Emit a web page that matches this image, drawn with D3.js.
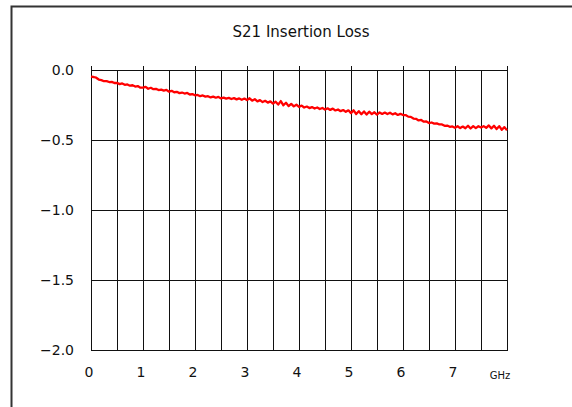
<html>
<head>
    <title>S21 Insertion Loss</title>
    <meta charset="utf-8" />
    <script src="https://d3js.org/d3.v7.min.js"></script>
</head>
<style>
    body { margin: 0; background: #fff; }
    svg { font-family: "DejaVu Sans", sans-serif; }
    .grid line { stroke: #111; stroke-width: 1px; shape-rendering: crispEdges; }
    .lbl { font-size: 14px; fill: #111; }
</style>
<body>
    <svg id="chart" width="572" height="407"></svg>

    <script>
        // frequency in GHz, loss in dB (every 0.05 GHz)
        var freqs = [
            0.00, 0.05, 0.10, 0.15, 0.20, 0.25, 0.30, 0.35, 0.40, 0.45,
            0.50, 0.55, 0.60, 0.65, 0.70, 0.75, 0.80, 0.85, 0.90, 0.95,
            1.00, 1.05, 1.10, 1.15, 1.20, 1.25, 1.30, 1.35, 1.40, 1.45,
            1.50, 1.55, 1.60, 1.65, 1.70, 1.75, 1.80, 1.85, 1.90, 1.95,
            2.00, 2.05, 2.10, 2.15, 2.20, 2.25, 2.30, 2.35, 2.40, 2.45,
            2.50, 2.55, 2.60, 2.65, 2.70, 2.75, 2.80, 2.85, 2.90, 2.95,
            3.00, 3.05, 3.10, 3.15, 3.20, 3.25, 3.30, 3.35, 3.40, 3.45,
            3.50, 3.55, 3.60, 3.65, 3.70, 3.75, 3.80, 3.85, 3.90, 3.95,
            4.00, 4.05, 4.10, 4.15, 4.20, 4.25, 4.30, 4.35, 4.40, 4.45,
            4.50, 4.55, 4.60, 4.65, 4.70, 4.75, 4.80, 4.85, 4.90, 4.95,
            5.00, 5.05, 5.10, 5.15, 5.20, 5.25, 5.30, 5.35, 5.40, 5.45,
            5.50, 5.55, 5.60, 5.65, 5.70, 5.75, 5.80, 5.85, 5.90, 5.95,
            6.00, 6.05, 6.10, 6.15, 6.20, 6.25, 6.30, 6.35, 6.40, 6.45,
            6.50, 6.55, 6.60, 6.65, 6.70, 6.75, 6.80, 6.85, 6.90, 6.95,
            7.00, 7.05, 7.10, 7.15, 7.20, 7.25, 7.30, 7.35, 7.40, 7.45,
            7.50, 7.55, 7.60, 7.65, 7.70, 7.75, 7.80, 7.85, 7.90, 7.95,
            8.00
        ];
        var s21 = [
            -0.048, -0.050, -0.055, -0.068, -0.072, -0.080, -0.079, -0.086, -0.085, -0.093,
            -0.092, -0.101, -0.096, -0.106, -0.103, -0.112, -0.109, -0.118, -0.115, -0.126,
            -0.126, -0.120, -0.134, -0.127, -0.137, -0.135, -0.143, -0.140, -0.147, -0.142,
            -0.155, -0.149, -0.159, -0.156, -0.165, -0.161, -0.168, -0.164, -0.175, -0.172,
            -0.181, -0.178, -0.187, -0.182, -0.190, -0.187, -0.196, -0.190, -0.198, -0.192,
            -0.203, -0.197, -0.204, -0.199, -0.207, -0.201, -0.210, -0.203, -0.213, -0.204,
            -0.215, -0.202, -0.219, -0.208, -0.224, -0.215, -0.229, -0.220, -0.233, -0.224,
            -0.240, -0.226, -0.247, -0.222, -0.252, -0.234, -0.258, -0.242, -0.260, -0.248,
            -0.264, -0.254, -0.268, -0.261, -0.272, -0.265, -0.275, -0.268, -0.279, -0.271,
            -0.282, -0.274, -0.285, -0.276, -0.289, -0.282, -0.294, -0.286, -0.299, -0.288,
            -0.308, -0.288, -0.314, -0.294, -0.316, -0.296, -0.318, -0.298, -0.315, -0.302,
            -0.318, -0.303, -0.314, -0.304, -0.315, -0.305, -0.317, -0.309, -0.321, -0.313,
            -0.322, -0.322, -0.333, -0.335, -0.347, -0.349, -0.360, -0.357, -0.369, -0.368,
            -0.379, -0.375, -0.383, -0.381, -0.389, -0.389, -0.399, -0.397, -0.406, -0.403,
            -0.413, -0.402, -0.415, -0.404, -0.416, -0.398, -0.418, -0.401, -0.415, -0.402,
            -0.411, -0.401, -0.413, -0.396, -0.417, -0.398, -0.422, -0.401, -0.427, -0.408,
            -0.430
        ];
        var xTicks = [0, 1, 2, 3, 4, 5, 6, 7];
        var xGrid = [0, 0.5, 1, 1.5, 2, 2.5, 3, 3.5, 4, 4.5, 5, 5.5, 6, 6.5, 7, 7.5, 8];
        var yTicks = [0, -0.5, -1.0, -1.5, -2.0];
        var title = "S21 Insertion Loss";
        var unit = "GHz";

        var svg = d3.select("#chart");

        // outer frame (runs off the right and bottom of the picture)
        svg.append("path")
            .attr("d", "M11.5,407V6.5H572")
            .attr("fill", "none")
            .attr("stroke", "#333")
            .attr("stroke-width", 2);

        var x = d3.scaleLinear().domain([0, 8]).range([91, 507]);
        var y = d3.scaleLinear().domain([0, -2]).range([70, 350]);
        var px = function(v) { return Math.round(x(v)) + 0.5; };
        var py = function(v) { return Math.round(y(v)) + 0.5; };

        var grid = svg.append("g").classed("grid", true);

        grid.selectAll("line.v")
            .data(xGrid)
            .enter()
            .append("line")
            .classed("v", true)
            .attr("x1", px).attr("x2", px)
            .attr("y1", function(d) { return d % 1 === 0 ? py(0) - 5 : py(0); })
            .attr("y2", py(-2));

        grid.selectAll("line.h")
            .data(yTicks)
            .enter()
            .append("line")
            .classed("h", true)
            .attr("x1", px(0)).attr("x2", px(8))
            .attr("y1", py).attr("y2", py);

        svg.selectAll("text.ylbl")
            .data(yTicks)
            .enter()
            .append("text")
            .attr("class", "lbl ylbl")
            .attr("x", 74)
            .attr("y", function(d) { return y(d); })
            .attr("dy", "0.36em")
            .attr("text-anchor", "end")
            .text(function(d) { return d3.format(".1f")(d).replace("-", "\u2212"); });

        svg.selectAll("text.xlbl")
            .data(xTicks)
            .enter()
            .append("text")
            .attr("class", "lbl xlbl")
            .attr("x", function(d) { return x(d) - 2; })
            .attr("y", 377)
            .attr("text-anchor", "middle")
            .text(function(d) { return d; });

        svg.append("text")
            .attr("x", x(8) - 7)
            .attr("y", 379)
            .attr("text-anchor", "middle")
            .style("font-size", "10px")
            .style("fill", "#111")
            .text(unit);

        svg.append("text")
            .attr("x", 301)
            .attr("y", 37)
            .attr("text-anchor", "middle")
            .style("font-size", "15px")
            .style("fill", "#111")
            .text(title);

        var line = d3.line()
            .x(function(d, i) { return x(freqs[i]); })
            .y(function(d) { return y(d); });

        svg.append("path")
            .datum(s21)
            .attr("d", line)
            .attr("fill", "none")
            .attr("stroke", "#ff0000")
            .attr("stroke-width", 2.3)
            .attr("stroke-linejoin", "round");
    </script>
</body>
</html>
